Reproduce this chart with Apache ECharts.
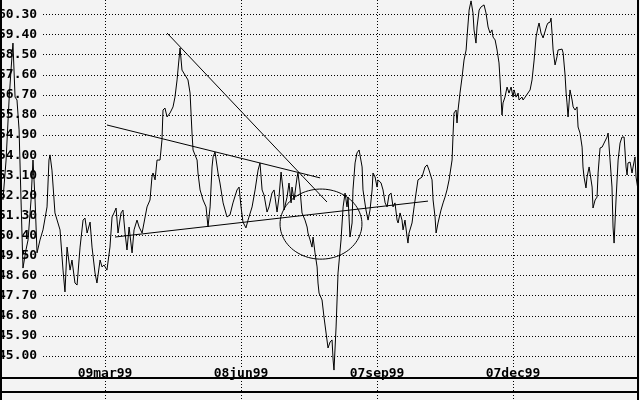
<!DOCTYPE html>
<html><head><meta charset="utf-8">
<script src="https://cdn.jsdelivr.net/npm/echarts@6/dist/echarts.min.js"></script>
<style>html,body{margin:0;padding:0;background:#f3f3f3}#c{width:640px;height:400px}</style>
</head><body><div id="c"></div>
<script>
// x = calendar days after 09mar99
const priceDays = [-68.3,-66.2,-64.2,-62.9,-61.6,-60.2,-58.9,-57.5,-56.2,-54.9,-52.9,-51.5,-49.5,-48.2,-46.8,-45.5,-43.5,-41.5,-38.8,-37.5,-36.8,-35.5,-33.5,-30.1,-28.1,-26.8,-25.4,-23.4,-22.1,-20.1,-18.7,-16.7,-14.7,-13.4,-12.0,-10.0,-8.7,-6.7,-5.4,-3.3,-2.0,-0.7,1.3,3.3,4.7,6.0,7.4,8.7,10.7,12.0,13.4,14.7,16.1,18.1,19.4,21.4,22.8,24.8,26.1,28.1,30.1,31.4,32.1,33.5,34.8,36.8,38.1,38.8,40.1,41.5,43.5,45.5,46.8,48.2,48.8,50.2,51.5,53.5,55.5,56.9,58.2,58.9,60.2,61.6,62.2,63.6,65.6,67.6,68.9,70.3,71.6,72.3,73.6,75.6,76.9,79.0,81.6,83.6,85.6,88.3,89.7,91.0,92.3,94.3,95.7,98.4,100.4,102.4,103.7,105.1,106.4,108.4,109.7,111.7,113.1,115.1,116.4,117.8,119.1,119.8,121.8,123.1,124.5,125.1,126.5,128.5,129.1,130.5,131.8,133.8,135.2,135.8,137.2,138.5,139.2,140.5,141.9,142.5,143.2,145.2,146.5,148.5,149.2,150.6,151.9,152.6,153.2,154.6,155.9,157.9,159.3,160.6,161.9,162.6,163.9,165.3,165.9,167.3,168.6,170.0,172.0,172.6,174.6,176.0,177.3,178.7,179.3,180.7,182.0,182.7,184.7,186.0,187.4,188.7,190.0,191.4,192.7,194.0,195.4,196.1,197.4,198.7,199.4,200.7,202.1,202.7,203.4,205.4,206.8,208.1,209.4,212.1,214.1,215.5,216.8,218.8,219.5,220.8,221.5,222.8,224.8,226.2,227.5,228.8,230.2,231.5,232.2,232.9,233.5,234.9,235.5,236.2,237.5,238.9,240.2,241.6,242.2,243.6,244.9,246.2,246.9,248.2,248.9,250.3,251.6,252.9,253.6,254.9,256.3,257.6,258.9,259.6,261.0,262.3,263.6,264.3,265.6,266.3,267.6,269.0,270.3,271.7,273.0,273.7,275.0,276.4,277.0,279.0,279.7,281.1,282.4,284.4,285.7,287.1,288.4,289.7,290.4,291.7,293.1,294.4,295.7,296.4,297.8,298.4,299.1,299.8,301.1,302.4,303.1,305.8,306.5,307.8,308.5,309.1,309.8,311.1,312.5,313.2,314.5,315.8,316.5,317.8,319.2,319.8,320.5,321.8,322.5,323.9,324.5,325.9,326.5,327.9,329.2,329.9,331.2,332.6,333.9,335.9,336.6,337.9,339.2,339.9,340.6,341.9,343.3,344.6,345.9,347.3,348.6,349.3,349.9,351.3,352.6,353.3,354.6,355.3,356.6];
const priceValues = [51.99,53.78,56.47,57.81,59.02,56.60,56.47,55.13,51.99,48.94,49.75,50.20,51.99,53.78,51.99,49.62,50.20,50.65,51.68,53.78,54.01,53.33,51.41,50.65,48.85,47.87,49.88,48.85,49.30,48.27,48.18,49.88,51.09,51.18,50.51,51.00,49.88,48.72,48.27,49.30,48.99,49.08,48.85,49.88,51.23,51.41,51.63,50.51,51.41,51.54,50.51,49.75,50.78,49.62,50.65,51.09,50.78,50.51,50.51,51.68,51.99,53.02,53.20,52.89,53.78,53.78,54.68,56.02,56.11,55.71,55.89,56.16,56.60,57.37,57.81,58.80,57.81,57.59,57.37,56.78,54.99,54.23,54.01,53.78,53.20,52.44,51.99,51.68,50.78,51.68,53.47,53.92,54.14,53.20,52.75,51.86,51.23,51.32,51.86,52.44,52.57,51.68,51.00,50.74,51.09,51.68,52.44,53.33,53.65,52.44,52.21,51.45,51.68,52.30,52.44,51.45,52.12,53.24,52.44,51.54,52.12,52.75,51.86,52.57,51.99,53.02,53.20,52.44,51.41,51.09,50.78,50.51,50.20,49.88,50.33,49.62,48.99,48.27,47.82,47.51,46.75,45.72,45.36,45.63,45.72,44.82,44.37,46.30,48.72,50.20,51.68,52.30,51.68,52.12,50.33,50.96,52.44,53.65,54.10,54.23,53.47,52.44,51.54,51.09,51.54,52.44,53.20,53.02,52.57,52.89,52.75,52.44,51.86,51.68,52.21,52.30,51.68,51.86,51.09,50.96,51.41,51.09,50.65,51.09,50.33,50.06,50.51,50.96,51.68,52.30,52.89,53.02,53.47,53.56,53.33,52.89,51.99,51.23,50.51,50.96,51.54,51.86,52.12,52.44,52.89,52.89,53.78,54.99,55.89,56.02,55.44,56.02,56.78,57.50,58.26,58.71,59.29,60.50,60.91,60.37,59.61,59.02,59.74,60.50,60.64,60.64,60.73,60.37,59.74,59.47,59.61,59.29,59.16,58.71,58.13,57.37,55.80,56.34,56.60,57.05,56.78,57.05,56.60,56.92,56.60,56.78,56.47,56.60,56.47,56.60,56.56,56.92,57.37,58.26,59.29,59.74,59.92,59.47,59.25,59.29,59.83,59.92,59.96,60.14,59.47,58.71,58.04,58.40,58.71,58.75,58.58,57.59,56.78,56.34,55.71,56.92,56.47,56.16,56.02,56.16,55.26,54.99,54.36,53.47,53.02,52.53,53.02,53.47,53.47,52.57,51.63,51.99,52.12,53.20,54.32,54.36,54.54,54.81,54.99,53.78,52.57,50.78,50.06,51.99,53.78,54.54,54.81,54.81,53.47,53.11,53.65,53.69,53.20,53.47,53.92,53.02,52.44];
const xTickDays = [0, 91, 182, 273];
const xTickLabels = ['09mar99', '08jun99', '07sep99', '07dec99'];
const yTicks = [45.00, 45.90, 46.80, 47.70, 48.60, 49.50, 50.40, 51.30, 52.20, 53.10, 54.00, 54.90, 55.80, 56.70, 57.60, 58.50, 59.40, 60.30];
const trendSteep = [[41.5, 59.47], [148.5, 51.90]];
const trendUpper = [[1.3, 55.35], [143.9, 52.98]];
const trendLower = [[6.7, 50.33], [216.1, 51.94]];
const circleCenter = [144.5, 50.91];
const circleRadius = [27.4, 1.57];

const BG = '#f3f3f3';
const X_MIN = -69.6, X_MAX = 356.6;
const FONT = 'DejaVu Sans Mono';
const dotted = { color: '#000', width: 1, type: [1, 2] };

function frameX(gridIndex, position, showLine, showSplit, z) {
  return {
    type: 'value', gridIndex, position, min: X_MIN, max: X_MAX, z: z || 0,
    axisLine: { show: showLine, onZero: false, lineStyle: { color: '#000', width: 2 } },
    axisTick: { show: false, customValues: xTickDays },
    axisLabel: { show: false, customValues: xTickDays },
    splitLine: { show: showSplit, lineStyle: dotted }
  };
}
function frameY(gridIndex, position, z) {
  return {
    type: 'value', gridIndex, position, min: 0, max: 1, z: z || 0,
    axisLine: { show: true, onZero: false, lineStyle: { color: '#000', width: 2 } },
    axisTick: { show: false }, axisLabel: { show: false }, splitLine: { show: false }
  };
}
const gridBase = { left: 1, right: 2, containLabel: false, outerBoundsMode: 'none' };

const chart = echarts.init(document.getElementById('c'), null, { renderer: 'canvas' });
const lineSeries = (data) => ({
  type: 'line', xAxisIndex: 0, yAxisIndex: 0, data, symbol: 'none', silent: true,
  lineStyle: { color: '#000', width: 1 }, z: 3
});
chart.setOption({
  animation: false,
  backgroundColor: BG,
  grid: [
    Object.assign({ top: 0, height: 378 }, gridBase),
    Object.assign({ top: 378, height: 14 }, gridBase),
    Object.assign({ top: 392, height: 30 }, gridBase)
  ],
  xAxis: [
    {
      type: 'value', gridIndex: 0, position: 'bottom', min: X_MIN, max: X_MAX,
      axisLine: { show: false },
      axisTick: { show: false, customValues: xTickDays },
      axisLabel: {
        customValues: xTickDays, inside: true, margin: -2,
        formatter: v => xTickLabels[xTickDays.indexOf(v)],
        color: '#000', fontFamily: FONT, fontWeight: 'bold', fontSize: 13,
        backgroundColor: BG, padding: [0, 1, 0, 1]
      },
      splitLine: { show: true, lineStyle: dotted }
    },
    frameX(1, 'bottom', true, true, 0),
    frameX(2, 'top', false, true, 0),
    frameX(0, 'bottom', true, false, 1)
  ],
  yAxis: [
    {
      type: 'value', gridIndex: 0, position: 'left', min: 44.015, max: 60.95,
      axisLine: { show: false },
      axisTick: { show: false, customValues: yTicks },
      axisLabel: {
        customValues: yTicks, inside: true, margin: -3,
        formatter: v => v.toFixed(2),
        color: '#000', fontFamily: FONT, fontWeight: 'bold', fontSize: 13,
        backgroundColor: BG, padding: [0, 5, 0, 0]
      },
      splitLine: { show: true, lineStyle: dotted }
    },
    Object.assign(frameY(0, 'left', 1), { min: 44.015, max: 60.95 }),
    Object.assign(frameY(0, 'right', 1), { min: 44.015, max: 60.95 }),
    frameY(1, 'left', 1), frameY(1, 'right', 1),
    frameY(2, 'left', 1), frameY(2, 'right', 1)
  ],
  series: [
    lineSeries(priceDays.map((d, i) => [d, priceValues[i]])),
    lineSeries(trendSteep),
    lineSeries(trendUpper),
    lineSeries(trendLower),
    {
      type: 'custom', xAxisIndex: 0, yAxisIndex: 0, silent: true, z: 3,
      data: [circleCenter],
      renderItem: function (params, api) {
        const pts = [];
        for (let k = 0; k <= 90; k++) {
          const t = k / 90 * Math.PI * 2;
          pts.push(api.coord([circleCenter[0] + circleRadius[0] * Math.cos(t),
                              circleCenter[1] + circleRadius[1] * Math.sin(t)]));
        }
        return { type: 'polyline', shape: { points: pts }, style: { stroke: '#000', fill: null, lineWidth: 1 } };
      }
    }
  ]
});
</script></body></html>
